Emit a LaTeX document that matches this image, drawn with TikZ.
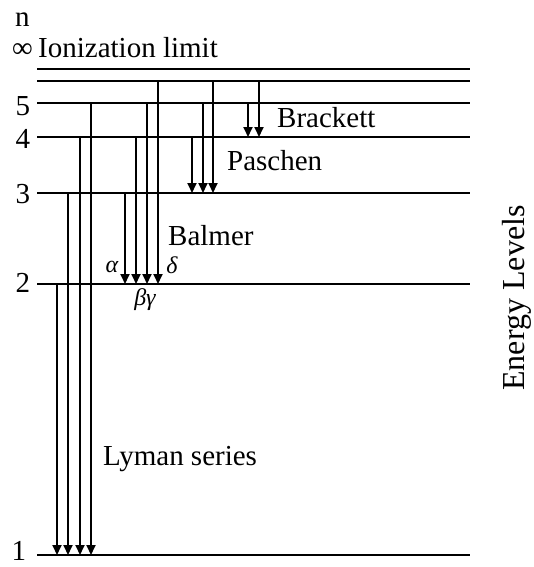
\documentclass[tikz,border=0pt]{standalone}
\usepackage{fontspec}
\setmainfont{Liberation Serif}
\usetikzlibrary{arrows.meta}
\begin{document}
\begin{tikzpicture}[x=1pt,y=-1pt,
  lvl/.style={line width=2.2pt},
  trans/.style={line width=1.8pt,-{Triangle[length=10pt,width=9pt]}},
  lab/.style={inner sep=0pt,font=\fontsize{29}{33}\selectfont},
  grk/.style={inner sep=0pt,font=\fontsize{24}{28}\selectfont\itshape}]
\useasboundingbox (0,0) rectangle (533,567);
\def\yI{69}\def\ySix{81}\def\yFive{103}\def\yFour{137}\def\yThree{193}\def\yTwo{284}\def\yOne{555}
\def\xL{37}\def\xR{470}
% level lines
\foreach \y/\n in {\yI/inf,\ySix/six,\yFive/five,\yFour/four,\yThree/three,\yTwo/two,\yOne/one}{
  \coordinate (\n W) at (\xL,\y);
  \coordinate (\n E) at (\xR,\y);
  \draw[lvl] (\n W) -- (\n E);
}
% labels
\node[lab,anchor=base west] (nlab) at (15,27) {n};
\node[lab,anchor=base east] (inflab) at (33,58) {∞};
\node[lab,anchor=base west] (ionlab) at (38,58) {Ionization limit};
\node[lab] (l5) at (23,106) {5};
\node[lab] (l4) at (23,139) {4};
\node[lab] (l3) at (23,194) {3};
\node[lab] (l2) at (23,283) {2};
\node[lab] (l1) at (19,551) {1};
% Lyman
\foreach \x/\y in {57/\yTwo,68/\yThree,80/\yFour,91/\yFive}{
  \coordinate (a) at (\x,\y); \coordinate (b) at (\x,\yOne);
  \draw[trans] (a) -- (b);
}
% Balmer
\foreach \x/\y in {125/\yThree,136/\yFour,147/\yFive,158/\ySix}{
  \coordinate (a) at (\x,\y); \coordinate (b) at (\x,\yTwo);
  \draw[trans] (a) -- (b);
}
% Paschen
\foreach \x/\y in {192/\yFour,203/\yFive,213/\ySix}{
  \coordinate (a) at (\x,\y); \coordinate (b) at (\x,\yThree);
  \draw[trans] (a) -- (b);
}
% Brackett
\foreach \x/\y in {248/\yFive,259/\ySix}{
  \coordinate (a) at (\x,\y); \coordinate (b) at (\x,\yFour);
  \draw[trans] (a) -- (b);
}
\node[lab,anchor=base west] (brk) at (277,128) {Brackett};
\node[lab,anchor=base west] (pas) at (227,170) {Paschen};
\node[lab,anchor=base west] (bal) at (168,245) {Balmer};
\node[lab,anchor=base west] (lym) at (103,465) {Lyman series};
\node[lab,rotate=90,font=\fontsize{32}{36}\selectfont] (en) at (517,298) {Energy Levels};
\node[grk] (ga) at (112,267) {α};
\node[grk] (gd) at (172,265) {δ};
\node[grk] (gbg) at (145,300) {βγ};
\end{tikzpicture}
\end{document}
